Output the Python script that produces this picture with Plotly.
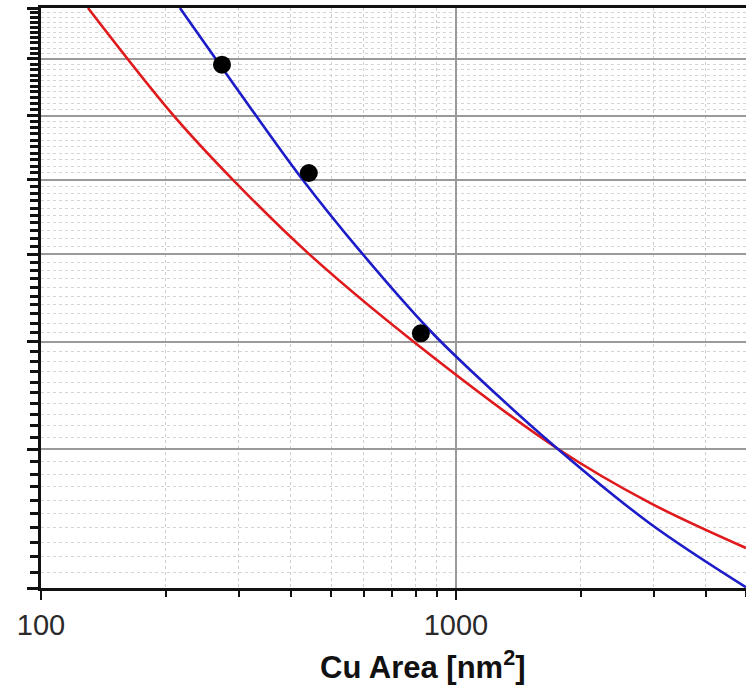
import numpy as np
import plotly.graph_objects as go

# ---- data ----
blue_x = [216.2, 318.9, 430.0, 587.0, 865.8, 1080.8, 1751.3, 2934, 4998]
blue_y = [10.0, 8.14, 6.98, 6.04, 5.12, 4.72, 4.01, 3.43, 3.005]

red_x = [129.8, 208.0, 290.1, 444.8, 819.0, 1751.3, 2934, 4998]
red_y = [10.0, 8.01, 7.00, 5.99, 4.95, 4.01, 3.58, 3.26]

dots_x = [273, 442, 823]
dots_y = [8.89, 7.10, 5.09]

x_label_vals = [100, 1000]
x_label_text = ["100", "1000"]
x_minor_vals = [200, 300, 400, 500, 600, 700, 800, 900, 2000, 3000, 4000, 5000]
y_major = [3, 4, 5, 6, 7, 8, 9, 10]
y_minor = [round(v, 1) for v in np.arange(3.0, 10.01, 0.1) if abs(v - round(v)) > 1e-6]

fig = go.Figure()
fig.add_trace(go.Scatter(x=red_x, y=red_y, mode="lines",
                         line=dict(color="#e0191c", width=2.6, shape="spline", smoothing=1.0),
                         showlegend=False))
fig.add_trace(go.Scatter(x=blue_x, y=blue_y, mode="lines",
                         line=dict(color="#1c1cc8", width=2.6, shape="spline", smoothing=1.0),
                         showlegend=False))
fig.add_trace(go.Scatter(x=dots_x, y=dots_y, mode="markers",
                         marker=dict(color="black", size=18),
                         showlegend=False))

fig.update_layout(
    width=746, height=686,
    margin=dict(l=41, r=0, t=8, b=98),
    paper_bgcolor="white", plot_bgcolor="white",
    font=dict(family="Arial, Liberation Sans, sans-serif", color="#222"),
    xaxis=dict(
        type="log", range=[2, np.log10(5000)],
        tickmode="array", tickvals=x_label_vals, ticktext=x_label_text,
        ticks="outside", ticklen=9, tickwidth=2, tickcolor="#111",
        tickfont=dict(size=29, color="#2a2a2a"),
        showgrid=True, gridcolor="#9a9a9a", gridwidth=1.5,
        minor=dict(tickmode="array", tickvals=x_minor_vals, ticks="outside",
                   ticklen=6, tickwidth=2, tickcolor="#111",
                   showgrid=True, gridcolor="#cfcfcf", gridwidth=1, griddash="dot"),
        showline=True, linecolor="#111", linewidth=3, mirror=True,
        zeroline=False,
    ),
    yaxis=dict(
        type="log", range=[np.log10(3), 1],
        tickmode="array", tickvals=y_major,
        showticklabels=False,
        ticks="outside", ticklen=11, tickwidth=2.5, tickcolor="#111",
        showgrid=True, gridcolor="#9a9a9a", gridwidth=2,
        minor=dict(tickmode="array", tickvals=y_minor, ticks="outside",
                   ticklen=8, tickwidth=2.5, tickcolor="#111",
                   showgrid=True, gridcolor="#d4d4d4", gridwidth=1, griddash="dot"),
        showline=True, linecolor="#111", linewidth=3, mirror=False,
        zeroline=False,
    ),
)

fig.add_annotation(
    text="<b>Cu Area [nm<sup>2</sup>]</b>",
    xref="paper", yref="paper", x=(423 - 41) / 705, y=-(665 - 588) / 580,
    xanchor="center", yanchor="middle", showarrow=False,
    font=dict(size=31, color="#111", family="Arial, Liberation Sans, sans-serif"),
)

fig.write_html("out.html")
